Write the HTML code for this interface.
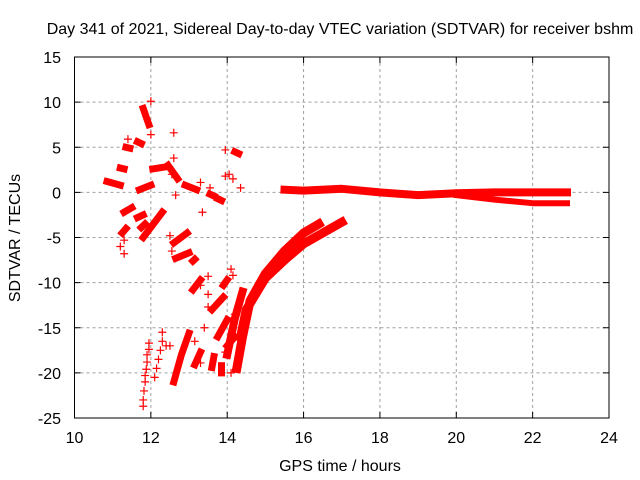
<!DOCTYPE html>
<html><head><meta charset="utf-8"><style>
body{margin:0;background:#fff}
svg{display:block;font-family:"Liberation Sans",sans-serif;font-size:16px}
</style></head><body>
<svg id="chart" width="640" height="480">
<text x="340" y="34" text-anchor="middle" fill="#000">Day 341 of 2021, Sidereal Day-to-day VTEC variation (SDTVAR) for receiver bshm</text>
<text x="340" y="471" text-anchor="middle">GPS time / hours</text>
<text transform="translate(20,238) rotate(-90)" text-anchor="middle">SDTVAR / TECUs</text>
<g id="grid"></g><g id="marks"></g><g id="frame"></g>
</svg>
<script>
const xTicks=[10,12,14,16,18,20,22,24];
const yTicks=[15,10,5,0,-5,-10,-15,-20,-25];
// dense bands (hours, TECU)
const bandUpper=[[14.35,-16],[14.5,-13],[15,-9.5],[15.5,-7.5],[16,-5.7],[16.5,-4.5],[17,-3.3]];
const bandLower=[[14.25,-19.5],[14.4,-16],[14.6,-12],[15,-9],[15.5,-6.5],[16,-4.5],[16.4,-3.5]];
const bandFlat=[[15.5,0.3],[16,0.2],[17,0.4],[18,0],[19,-0.3],[20,-0.1],[21,0],[22,0],[22.9,0]];
const bandFlatLow=[[20,-0.3],[21,-0.8],[22,-1.2],[22.9,-1.2]];
const bandMid=[[14.0,-18],[14.2,-14],[14.4,-11]];
const clusters=[
[[11.8,9.3],[11.95,7.5]],[[10.85,1.2],[11.2,0.8]],[[11.7,0.3],[12.0,0.8]],[[12.05,2.6],[12.35,2.8]],
[[12.45,3],[12.7,1.5]],[[12.9,0.8],[13.2,0.3]],[[13.55,-0.2],[13.65,-0.4]],[[13.75,-0.7],[13.85,-0.9]],
[[14.2,4.5],[14.3,4.3]],[[11.35,5],[11.45,4.9]],[[11.65,5.6],[11.75,5.4]],[[11.2,2.7],[11.3,2.6]],
[[11.8,-5],[12.3,-2.2]],[[11.3,-2.2],[11.5,-1.7]],[[11.25,-4.5],[11.35,-4.0]],[[11.65,-2.8],[11.8,-2.5]],
[[11.75,-3.9],[11.85,-3.5]],[[12.6,-5.6],[12.95,-4.5]],[[12.65,-7.3],[13.0,-6.7]],[[13.1,-7.6],[13.15,-7.4]],
[[13.1,-10.8],[13.3,-9.7]],[[13.9,-10.3],[14.0,-9.7]],[[13.6,-13],[13.9,-11.6]],[[13.75,-16],[14.0,-14.1]],
[[13.85,-20],[13.85,-19.2]],[[13.6,-19.4],[13.65,-18.2]],[[13.15,-19.1],[13.3,-17.7]],[[12.6,-21],[12.8,-18],[13.0,-15.6]],
[[14.0,-17],[14.2,-16]]
];
const crosses=[[12.0,10.1],[12.0,6.4],[12.6,6.6],[11.4,5.9],[11.2,-6],[11.3,-6.8],[11.3,-5.3],[11.8,-23.7],[11.8,-23],[11.82,-22],
[11.85,-21],[11.85,-20.3],[11.88,-19.6],[11.9,-18.8],[11.9,-18],[11.95,-17.4],[11.95,-16.7],[12.1,-20.5],[12.15,-19.5],[12.2,-18.5],
[12.25,-17.5],[12.3,-16.5],[12.3,-15.5],[12.4,-17],[12.5,-17],[12.55,-6.5],[12.5,-4.8],[12.6,3.8],[12.55,2.0],[12.65,-0.3],
[13.35,-2.2],[13.3,1.1],[13.55,0.5],[13.95,4.7],[14.05,2],[14.15,1.5],[13.95,1.8],[14.35,0.5],[14.1,-8.5],[14.15,-9.2],
[13.5,-9.3],[13.3,-10.3],[13.5,-11.3],[13.5,-12.7],[13.4,-15],[13.3,-18.9],[13.15,-16.5],[14.1,-20],[14.2,-13.5],[13.95,-17.7]];
const X=v=>74.5+(v-10)*(609-74.5)/14, Y=v=>57+(15-v)*(418-57)/40;
const NS='http://www.w3.org/2000/svg';
function mk(t,a,p){const e=document.createElementNS(NS,t);for(const k in a)e.setAttribute(k,a[k]);p.appendChild(e);return e;}
const grid=document.getElementById('grid'),marks=document.getElementById('marks'),frame=document.getElementById('frame');
xTicks.forEach((t,i)=>{
 if(i>0&&i<xTicks.length-1){const g=mk('line',{x1:X(t),x2:X(t),y1:57,y2:418,stroke:'#a0a0a0','stroke-dasharray':'3,3'},grid);
 
 }
 const tk=mk('path',{d:`M${X(t)},418v-6M${X(t)},57v6`,stroke:'#000'},frame);
 
 
 const l=mk('text',{x:X(t),y:443,'text-anchor':'middle'},frame);l.textContent=t;
 
 
});
yTicks.forEach((t,i)=>{
 if(i>0&&i<yTicks.length-1){const g=mk('line',{x1:74.5,x2:609,y1:Y(t),y2:Y(t),stroke:'#a0a0a0','stroke-dasharray':'3,3'},grid);
 
 }
 const tk=mk('path',{d:`M74.5,${Y(t)}h6M609,${Y(t)}h-6`,stroke:'#000'},frame);
 
 
 const l=mk('text',{x:61,y:Y(t)+6,'text-anchor':'end'},frame);l.textContent=t;
 
 
});
const fr=mk('rect',{x:74.5,y:57,width:534.5,height:361,fill:'none',stroke:'#000'},frame);


function band(pts,w,name){
 const d=pts.map((p,i)=>(i?'L':'M')+X(p[0]).toFixed(1)+','+Y(p[1]).toFixed(1)).join('');
 const e=mk('path',{d:d,stroke:'#f00','stroke-width':w,fill:'none','stroke-linecap':'square','stroke-linejoin':'round'},marks);
 
 
}
band(bandUpper,9,'band-upper');
band(bandLower,9,'band-lower');
band(bandMid,8,'band-mid');
band(bandFlat,8,'band-flat');
band(bandFlatLow,6,'band-flat-low');
clusters.forEach(c=>band(c,7,'point-cluster'));
crosses.forEach(p=>{
 const x=X(p[0]),y=Y(p[1]);
 const e=mk('path',{d:`M${x-4},${y}h8M${x},${y-4}v8`,stroke:'#f00','stroke-width':1.2},marks);
 
 
});
</script>
</body></html>
